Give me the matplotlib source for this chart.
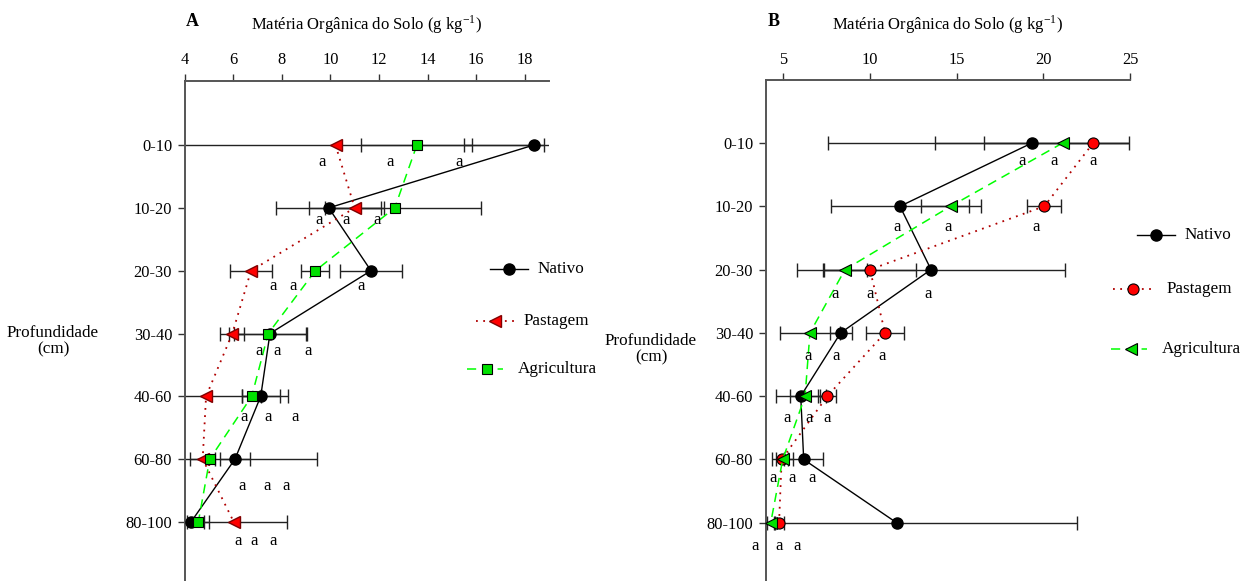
import matplotlib.pyplot as plt
from matplotlib.lines import Line2D

plt.rcParams["font.family"] = ["Liberation Serif", "DejaVu Serif"]
plt.rcParams["font.size"] = 11.5
plt.rcParams["mathtext.fontset"] = "stix"

W, H = 1246, 581

## Data

depths = ["0-10", "10-20", "20-30", "30-40", "40-60", "60-80", "80-100"]
series = ["Nativo", "Pastagem", "Agricultura"]

# panel A
a_nativo = [18.37, 9.93, 11.67, 7.51, 7.13, 6.07, 4.26]
a_nativo_err = [2.86, 2.17, 1.28, 1.50, 0.79, 0.63, 0.55]
a_pastagem = [10.21, 11.00, 6.73, 5.96, 4.88, 4.74, 6.02]
a_pastagem_err = [8.57, 1.21, 0.87, 0.50, 3.39, 0.52, 2.18]
a_agricultura = [13.56, 12.65, 9.38, 7.44, 6.76, 5.03, 4.56]
a_agricultura_err = [2.29, 3.55, 0.58, 1.60, 0.39, 4.40, 0.45]
a_letters_x = [[9.65, 12.45, 15.29], [9.54, 10.63, 11.90], [7.65, 8.47, 11.26],
               [7.07, 7.80, 9.07], [6.43, 7.43, 8.54], [6.37, 7.39, 8.17],
               [6.19, 6.86, 7.65]]
a_letters_dy = [0.27, 0.20, 0.24, 0.28, 0.33, 0.43, 0.31]

# panel B
b_nativo = [19.35, 11.74, 13.53, 8.32, 6.02, 6.19, 11.55]
b_nativo_err = [5.59, 3.98, 7.72, 0.64, 1.44, 1.13, 10.37]
b_pastagem = [22.88, 20.06, 10.01, 10.88, 7.55, 4.92, 4.77]
b_pastagem_err = [15.27, 0.98, 2.63, 1.09, 0.52, 0.35, 0.28]
b_agricultura = [21.12, 14.66, 8.57, 6.55, 6.27, 4.98, 4.29]
b_agricultura_err = [4.56, 1.73, 1.25, 1.73, 0.87, 0.61, 0.23]
b_letters_x = [[18.79, 20.60, 22.88], [11.55, 14.52, 19.58], [7.99, 10.01, 13.37],
               [6.42, 8.07, 10.69], [5.25, 6.50, 7.53], [4.40, 5.53, 6.65],
               [3.40, 4.78, 5.82]]
b_letters_dy = [0.29, 0.33, 0.39, 0.36, 0.35, 0.30, 0.37]

## Styles

sty_nat = dict(color="black", ls="-", lw=1.0, marker="o", ms=8,
               mfc="black", mec="black")
sty_pas_a = dict(color="#B00000", ls=(0, (1, 3)), lw=1.3, marker="<", ms=8,
                 mfc="#FF0000", mec="#800000")
sty_pas_b = dict(color="#B00000", ls=(0, (1, 3)), lw=1.3, marker="o", ms=8,
                 mfc="#FF0000", mec="black", mew=0.8)
sty_agr_a = dict(color="#00FF00", ls=(0, (6, 4)), lw=1.1, marker="s", ms=6.8,
                 mfc="#00E000", mec="black", mew=0.8)
sty_agr_b = dict(color="#00FF00", ls=(0, (6, 4)), lw=1.1, marker="<", ms=8,
                 mfc="#00E000", mec="black", mew=0.8)


def px(x, y):
    return x / W, 1 - y / H


def setup(ax, xlim, xticks, ylim):
    ax.set_xlim(*xlim)
    ax.set_ylim(*ylim)
    ax.xaxis.tick_top()
    ax.set_xticks(xticks)
    ax.set_yticks(range(len(depths)))
    ax.set_yticklabels(depths)
    for s in ["right", "bottom"]:
        ax.spines[s].set_visible(False)
    for s in ["left", "top"]:
        ax.spines[s].set_color("#555555")
        ax.spines[s].set_linewidth(1.4)
    ax.tick_params(direction="out", length=5, width=1.0, color="#333333",
                   labelsize=11.8, pad=4)
    ax.patch.set_alpha(0)


def draw(ax, vals, errs, styles, letters_x, letters_dy):
    y = list(range(len(depths)))
    for v, e in zip(vals, errs):
        ax.errorbar(v, y, xerr=e, fmt="none", ecolor="#222222", elinewidth=1.0,
                    capsize=5, capthick=1.0, zorder=2)
    for v, st in zip(vals, styles):
        ax.plot(v, y, zorder=3, clip_on=False, **st)
    for i, row in enumerate(letters_x):
        for lx in row:
            ax.text(lx, i + letters_dy[i], "a", ha="center", va="center",
                    fontsize=12)


def legend(fig, entries):
    for (x0, x1, xm, y, xt, label, st) in entries:
        fx0, fy = px(x0, y)
        fx1, _ = px(x1, y)
        st = dict(st)
        marker = st.pop("marker")
        ms = st.pop("ms")
        mfc = st.pop("mfc")
        mec = st.pop("mec")
        mew = st.pop("mew", 1.0)
        fig.add_artist(Line2D([fx0, fx1], [fy, fy], **st))
        fxm, _ = px(xm, y)
        fig.add_artist(Line2D([fxm], [fy], marker=marker, ms=ms, mfc=mfc,
                              mec=mec, mew=mew, ls="none"))
        fxt, _ = px(xt, y)
        fig.text(fxt, fy, label, ha="left", va="center", fontsize=12.3)


fig = plt.figure(figsize=(W / 100, H / 100), dpi=100)

# panel A
axA = fig.add_axes([184.7 / W, 0, (549 - 184.7) / W, (H - 81) / H])
setup(axA, (4, 19), range(4, 19, 2), (6.94, -1.02))
draw(axA, [a_nativo, a_pastagem, a_agricultura],
     [a_nativo_err, a_pastagem_err, a_agricultura_err],
     [sty_nat, sty_pas_a, sty_agr_a], a_letters_x, a_letters_dy)

# panel B
axB = fig.add_axes([765.7 / W, 0, (1130 - 765.7) / W, (H - 80) / H])
setup(axB, (4, 25), range(5, 26, 5), (6.92, -0.995))
draw(axB, [b_nativo, b_pastagem, b_agricultura],
     [b_nativo_err, b_pastagem_err, b_agricultura_err],
     [sty_nat, sty_pas_b, sty_agr_b], b_letters_x, b_letters_dy)

title = "Matéria Orgânica do Solo (g kg$^{\\mathregular{-1}}$)"
fig.text(*px(367, 25), title, ha="center", va="center", fontsize=12)
fig.text(*px(948, 25), title, ha="center", va="center", fontsize=12)
fig.text(*px(186, 22), "A", ha="left", va="center", fontsize=13,
         fontweight="bold")
fig.text(*px(768, 21), "B", ha="left", va="center", fontsize=13,
         fontweight="bold")
fig.text(*px(53, 341), "Profundidade\n(cm)", ha="center", va="center",
         fontsize=12.3, linespacing=1.05)
fig.text(*px(651, 349), "Profundidade\n(cm)", ha="center", va="center",
         fontsize=12.3, linespacing=1.05)

legend(fig, [
    (490, 528, 509, 269, 538, series[0], sty_nat),
    (476, 515, 495, 321, 524, series[1], sty_pas_a),
    (467, 503, 487, 369, 518, series[2], sty_agr_a),
])
legend(fig, [
    (1137, 1175, 1156, 235, 1185, series[0], sty_nat),
    (1113, 1153, 1133, 289, 1167, series[1], sty_pas_b),
    (1111, 1147, 1131, 349, 1162, series[2], sty_agr_b),
])

fig.savefig("out.png", dpi=100)
